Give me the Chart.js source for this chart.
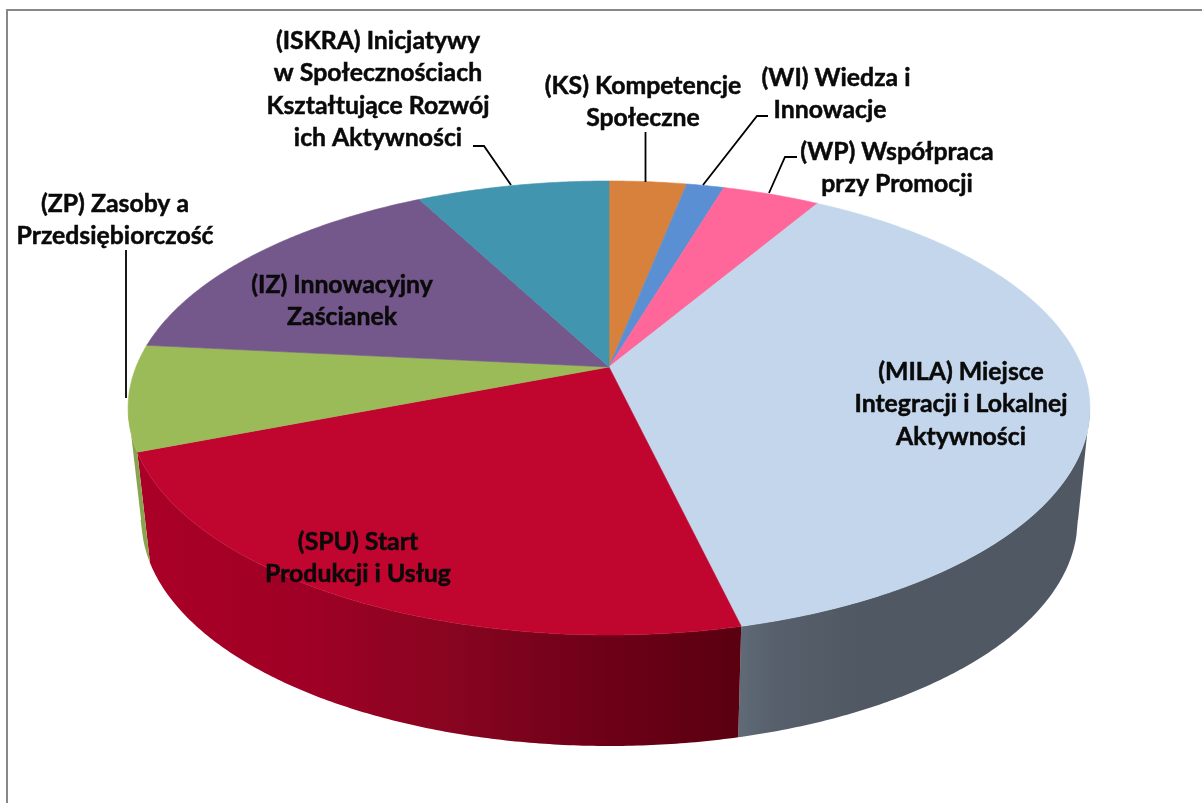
<!DOCTYPE html>
<html><head><meta charset="utf-8">
<style>html,body{margin:0;padding:0;background:#fff}canvas{display:block}</style>
<script src="https://cdn.jsdelivr.net/npm/chart.js@4"></script></head>
<body><canvas id="c" width="1202" height="803"></canvas>
<script>
// Data (percent shares, clockwise from the top)
const categories = ["KS","WI","WP","MILA","SPU","ZP","IZ","ISKRA"];
const values = [3.1,1.5,3.9,37.8,22.8,7.5,15.7,7.7];
const colors = ["#d8813c","#5a8fd4","#ff6699","#c3d6ec","#c0062f","#9bbb59","#74578b","#4195ae"];
const labelLines = [
 ["(KS) Kompetencje","Społeczne"],
 ["(WI) Wiedza i","Innowacje"],
 ["(WP) Współpraca","przy Promocji"],
 ["(MILA) Miejsce","Integracji i Lokalnej","Aktywności"],
 ["(SPU) Start","Produkcji i Usług"],
 ["(ZP) Zasoby a","Przedsiębiorczość"],
 ["(IZ) Innowacyjny","Zaścianek"],
 ["(ISKRA) Inicjatywy","w Społecznościach","Kształtujące Rozwój","ich Aktywności"]
];
// Layout
const labelCentre = [[643,86],[830,78],[897,152],[961,372],[358,542],[115,204],[342,285],[378,41]];
const lineGap = 32.5;
const leaders = [
 [[645.5,132],[645.5,182]],
 [[768,116],[757,116],[703,185]],
 [[797,157],[785,157],[769,193]],
 null,null,
 [[126,250],[126,398]],
 null,
 [[473,146],[484,146],[511,185]]
];
const wallStops = {
 3:[[742,"#5f6a76"],[775,"#565f6b"],[860,"#505963"],[1090,"#505963"]],
 4:[[140,"#aa0028"],[300,"#a00025"],[450,"#880520"],[600,"#6e0018"],[740,"#5a0010"]],
 5:[[120,"#88a54e"],[150,"#88a54e"]]
};
const apex = {x:609,y:367}, K=-0.1806, A=473, B=219.6;
const low = {cx:609.5,cy:520,a:468,b:226}, vanish={x:630,y:4740};
const norm = a => a + Math.PI/2;            // Chart.js angle -> clockwise from the top
function rim(t){const u=Math.sin(t),v=-Math.cos(t),w=1+K*v;return {x:apex.x+A*u/w,y:apex.y+B*v/w};}
function lower(p){let y=p.y+105,x=p.x;for(let i=0;i<6;i++){x=p.x+(vanish.x-p.x)*(y-p.y)/(vanish.y-p.y);
  const q=(x-low.cx)/low.a;y=low.cy+low.b*Math.sqrt(Math.max(0,1-q*q));}return {x,y};}
const STEP=Math.PI/360;
function samples(a,b){const r=[];for(let t=a;t<b;t+=STEP)r.push(t);r.push(b);return r;}

Chart.ArcElement.prototype.draw=function(ctx){
  const a=norm(this.startAngle),b=norm(this.endAngle);
  ctx.save();ctx.beginPath();ctx.moveTo(apex.x,apex.y);
  samples(a,b).forEach(t=>{const p=rim(t);ctx.lineTo(p.x,p.y);});
  ctx.closePath();
  ctx.fillStyle=this.options.backgroundColor;ctx.strokeStyle=this.options.backgroundColor;
  ctx.lineWidth=0.6;ctx.fill();ctx.stroke();ctx.restore();
};
const pie3d={id:"pie3d",
  beforeDraw(chart){const c=chart.ctx;c.save();c.fillStyle="#fff";c.fillRect(0,0,1202,803);
    c.strokeStyle="#888";c.lineWidth=2;c.beginPath();c.moveTo(7,803);c.lineTo(7,10);c.lineTo(1202,10);c.stroke();c.restore();},
  beforeDatasetsDraw(chart){const c=chart.ctx,front0=Math.acos(K),front1=2*Math.PI-front0;
    chart.getDatasetMeta(0).data.forEach((el,i)=>{
      const a=Math.max(norm(el.startAngle),front0),b=Math.min(norm(el.endAngle),front1);
      if(b<=a)return;
      const s=samples(a,b);
      c.save();c.beginPath();
      s.forEach((t,j)=>{const p=rim(t);j?c.lineTo(p.x,p.y):c.moveTo(p.x,p.y);});
      s.slice().reverse().forEach(t=>{const p=lower(rim(t));c.lineTo(p.x,p.y);});
      c.closePath();
      const st=wallStops[i];
      const g=c.createLinearGradient(st[0][0],0,st[st.length-1][0],0);
      const x0=st[0][0],x1=st[st.length-1][0];
      st.forEach(e=>g.addColorStop((e[0]-x0)/(x1-x0),e[1]));
      c.fillStyle=g;c.fill();c.restore();
    });
  },
  afterDraw(chart){const c=chart.ctx;c.save();
    c.strokeStyle="#000";c.lineWidth=1.8;c.lineJoin="miter";
    leaders.forEach(l=>{if(!l)return;c.beginPath();l.forEach((p,j)=>j?c.lineTo(p[0],p[1]):c.moveTo(p[0],p[1]));c.stroke();});
    c.fillStyle="#0a0a0a";c.strokeStyle="#0a0a0a";c.lineWidth=0.5;c.font="bold 24.8px Lato";c.textAlign="center";c.textBaseline="middle";
    labelLines.forEach((ls,i)=>ls.forEach((t,j)=>{const x=labelCentre[i][0]+(i===1&&j===0?6:0),y=labelCentre[i][1]+j*lineGap;
      c.fillText(t,x,y);c.strokeText(t,x,y);}));
    c.restore();}
};
new Chart(document.getElementById("c"),{type:"pie",plugins:[pie3d],
  data:{labels:categories,datasets:[{data:values,backgroundColor:colors,borderWidth:0}]},
  options:{responsive:false,animation:false,plugins:{legend:{display:false},tooltip:{enabled:false}}}});
</script></body></html>
